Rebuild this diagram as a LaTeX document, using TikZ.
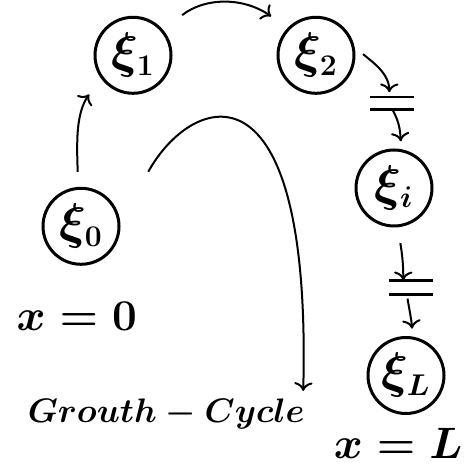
\documentclass[tikz,border=0pt]{standalone}
\usepackage{fix-cm}
\usetikzlibrary{arrows.meta}
\newcommand{\xs}[1]{\xi_{\mbox{\fontsize{15}{18}\selectfont$#1$}}}

\begin{document}
\begin{tikzpicture}[x=0.5pt,y=0.5pt,>={To[scale=1.15]},
  st/.style={draw,circle,line width=1.5pt,minimum size=38pt,inner sep=0pt,font=\fontsize{25}{30}\selectfont\boldmath},
  brk/.style={minimum width=21.5pt,minimum height=5.7pt,inner sep=0pt},
  bar/.style={line width=1.3pt},
  lnk/.style={->,line width=1pt},
  lbl/.style={inner sep=0pt,font=\fontsize{22}{26}\selectfont\boldmath}]
\useasboundingbox (0,0) rectangle (472,471);
\node[st] (X0) at (81,244.7) {$\xs{0}$};
\node[st] (X1) at (133,415.7) {$\xs{1}$};
\node[st] (X2) at (316,415.7) {$\xs{2}$};
\node[st] (Xi) at (394,283) {$\xs{i}$};
\node[st] (XL) at (406,95.5) {$\xs{L}$};
\node[brk] (Br1) at (392.3,367.7) {};
\node[brk,minimum height=6.8pt] (Br2) at (410.8,183.5) {};
\node[lbl,anchor=base] (L0) at (76.7,140) {$x=0$};
\node[lbl,anchor=base] (LL) at (398.3,12.7) {$x=L$};
\node[lbl,font=\fontsize{17}{20}\selectfont\boldmath,anchor=base east] (Cyc) at (305,48) {$Grouth-Cycle$};
\coordinate (C0) at (148.3,299.3);
% the two breaks in the chain
\draw[bar] (Br1.north west) -- (Br1.north east) (Br1.south west) -- (Br1.south east);
\draw[bar] (Br2.north west) -- (Br2.north east) (Br2.south west) -- (Br2.south east);
\draw[lnk,shorten <=7.5pt,shorten >=10pt] (X0.94) to[out=92,in=235] (X1.215);
\draw[lnk,shorten <=12pt,shorten >=10pt] (X1.40) to[out=38,in=145,looseness=1.1] (X2.136);
\draw[lnk,shorten <=5.5pt,shorten >=2.5pt] (X2.12) to[out=-40,in=90] ([xshift=-1.5pt]Br1.north);
\draw[lnk,shorten >=4pt] (Br1.south) to[out=-60,in=95] (Xi.79);
\draw[lnk,shorten <=8pt] (Xi.-84) to[out=-82,in=90] ([xshift=-3.75pt]Br2.north);
\draw[lnk,shorten <=2pt,shorten >=4pt] ([xshift=-2pt]Br2.south) to[out=-80,in=95] (XL.80);
\draw[lnk,shorten >=4pt] (C0) .. controls (192,378) and (312,420) .. ([xshift=-1pt]Cyc.north east);
\end{tikzpicture}
\end{document}
